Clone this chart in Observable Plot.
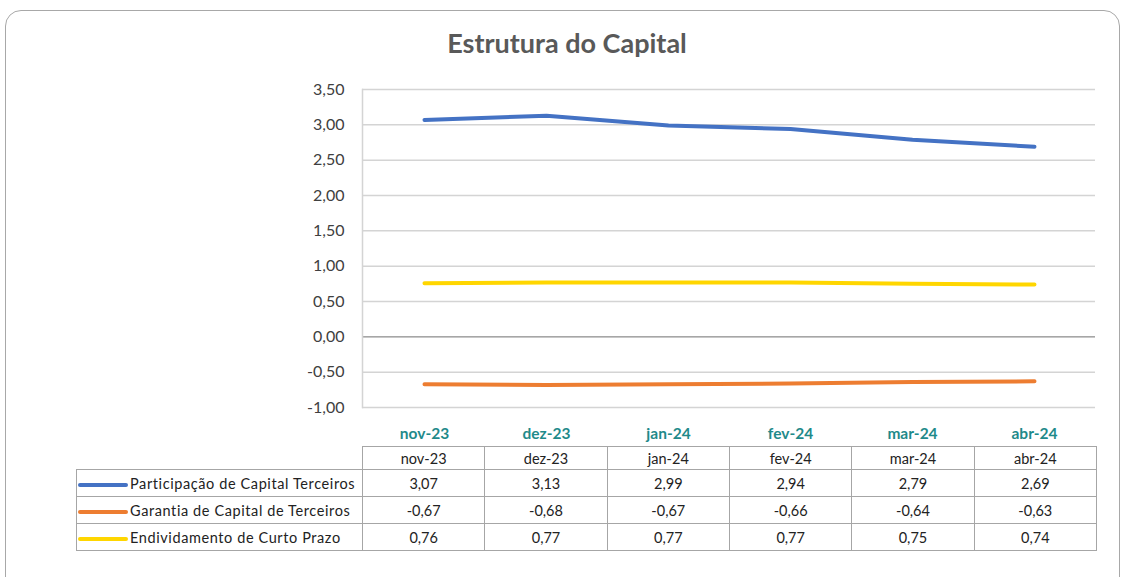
<!DOCTYPE html>
<html><head><meta charset="utf-8">
<script src="https://cdn.jsdelivr.net/npm/d3@7"></script>
<script src="https://cdn.jsdelivr.net/npm/@observablehq/plot@0.6"></script>
<style>
body{margin:0;background:#fff;font-family:Lato,"Open Sans",sans-serif;}
#wrap{position:relative;width:1122px;height:577px;overflow:hidden;background:#fff;}
#frame{position:absolute;left:5px;top:10px;width:1113px;height:620px;border:1.5px solid #a8a8a8;border-radius:16px;}
#title{position:absolute;top:26px;left:0;width:1134px;text-align:center;font-family:Lato,sans-serif;font-weight:bold;font-size:27px;color:#595959;}
#chart{position:absolute;left:0;top:0;}
#tbl{position:absolute;left:76px;top:446px;}
table{border-collapse:collapse;table-layout:fixed;width:1020px;font-family:Lato,sans-serif;font-size:14.5px;color:#222;}
td{border:1.5px solid #a6a6a6;text-align:center;padding:0;height:26px;overflow:hidden;}
td.lab{text-align:left;white-space:nowrap;letter-spacing:0.6px;}
tr.head td{height:22px;}
tr.head td.blank{border:none;border-bottom:1.5px solid #a6a6a6;}
.sw{display:inline-block;width:50px;height:4px;border-radius:2px;vertical-align:middle;margin:0 2px 0 1px;}
</style></head>
<body>
<div id="wrap">
  <div id="frame"></div>
  <div id="title">Estrutura do Capital</div>
  <div id="chart"></div>
  <div id="tbl"></div>
</div>
<script>
const months = ["nov-23","dez-23","jan-24","fev-24","mar-24","abr-24"];
const seriesNames = ["Participação de Capital Terceiros","Garantia de Capital de Terceiros","Endividamento de Curto Prazo"];
const participacao = [3.07,3.13,2.99,2.94,2.79,2.69];
const garantia = [-0.67,-0.68,-0.67,-0.66,-0.64,-0.63];
const endividamento = [0.76,0.77,0.77,0.77,0.75,0.74];
const colors = ["#4472C4","#ED7D31","#FFD600"];
const yTicks = [-1,-0.5,0,0.5,1,1.5,2,2.5,3,3.5];

const valuesBySeries = [participacao, garantia, endividamento];
const data = [];
seriesNames.forEach((s,i)=>months.forEach((m,j)=>data.push({series:s, month:m, value:valuesBySeries[i][j]})));
const fmt = d => d.toFixed(2).replace(".", ",");

const chart = Plot.plot({
  width:1122, height:445,
  marginLeft:362, marginRight:27, marginTop:89, marginBottom:38,
  style:{fontFamily:"Lato, sans-serif", background:"transparent"},
  x:{type:"point", domain:months, padding:0.5},
  y:{domain:[-1,3.5]},
  color:{domain:seriesNames, range:colors},
  marks:[
    Plot.gridY(yTicks, {stroke:"#d4d4d4", strokeOpacity:1, strokeWidth:1.5}),
    Plot.ruleY([0], {stroke:"#a6a6a6", strokeWidth:1.5}),
    Plot.frame({anchor:"left", stroke:"#d4d4d4", strokeWidth:1.5}),
    Plot.axisY(yTicks, {tickSize:0, tickPadding:18, tickFormat:fmt, fontSize:16, fill:"#404040", label:null}),
    Plot.axisX({tickSize:0, tickPadding:20, fontSize:15.5, fontWeight:"bold", fill:"#1f8a8a", label:null}),
    Plot.line(data, {x:"month", y:"value", z:"series", stroke:"series", strokeWidth:4, strokeLinecap:"round", strokeLinejoin:"round"})
  ]
});
document.getElementById("chart").appendChild(chart);

// data table
let html = "<table><colgroup><col style='width:286px'>" + months.map(()=>"<col style='width:122.33px'>").join("") + "</colgroup>";
html += "<tr class='head'><td class='lab blank'></td>" + months.map(m=>`<td>${m}</td>`).join("") + "</tr>";
seriesNames.forEach((s,i)=>{
  html += `<tr><td class='lab'><span class='sw' style='background:${colors[i]}'></span>${s}</td>` +
    valuesBySeries[i].map(v=>`<td>${fmt(v)}</td>`).join("") + "</tr>";
});
html += "</table>";
document.getElementById("tbl").innerHTML = html;
</script>
</body></html>
